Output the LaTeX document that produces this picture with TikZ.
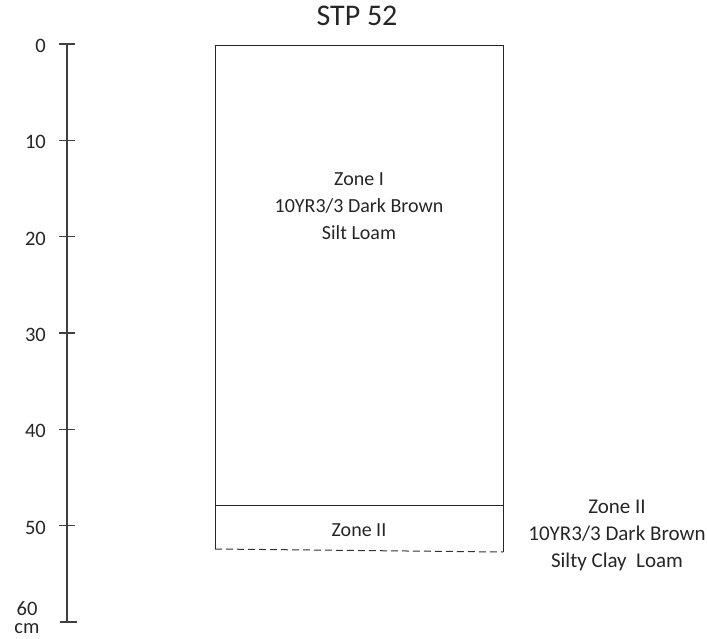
\documentclass[tikz,border=0pt]{standalone}
\usepackage{fontspec}
\setmainfont{Carlito}
\usetikzlibrary{positioning}

\begin{document}
\begin{tikzpicture}[
  x=1pt, y=-1pt,
  title/.style={font=\fontsize{30}{34}\selectfont, text=black!85, inner sep=0pt},
  zonetext/.style={font=\fontsize{20}{27}\selectfont, align=center, text=black!85, inner sep=0pt},
  sidetext/.style={font=\fontsize{21}{27}\selectfont, align=center, text=black!85, inner sep=0pt},
  depthlabel/.style={font=\fontsize{20.5}{22}\selectfont, text=black!85, inner sep=0pt},
  scaleline/.style={draw=black!75, line width=1.2pt},
  profile/.style={draw=black!85, line width=1pt},
  bottomline/.style={draw=black!80, line width=1pt, dash pattern=on 7pt off 4pt}
]
\useasboundingbox (0,0) rectangle (707,639);

\node[title] (title) at (357,16) {STP 52};

% depth scale in cm
\draw[scaleline] (67,44) coordinate (s0) -- (67,622) coordinate (s60);
\foreach \d [count=\i from 0] in {0,10,20,30,40,50} {
  \draw[scaleline] (59,44+96.3*\i) -- (75,44+96.3*\i);
  \node[depthlabel, anchor=east] (d\d) at (46,46+96.3*\i) {\d};
}
\draw[scaleline] (60,622) -- (77,622);
\node[depthlabel] (d60) at (27,609) {60};
\node[depthlabel, below=7pt of d60] (unit) {cm};

% soil profile
\coordinate (tl) at (215,46);
\coordinate (tr) at (503,46);
\coordinate (bl) at (215,549);
\coordinate (br) at (503,552);
\draw[profile] (bl) -- (tl) -- (tr) -- (br);
\draw[profile] (215,505) coordinate (zl) -- (503,505) coordinate (zr);
\draw[bottomline] (bl) -- (br);

\node[zonetext] (zone1) at (359,206) {Zone I\\10YR3/3 Dark Brown\\Silt Loam};
\node[zonetext] (zone2) at (359,530) {Zone II};
\node[sidetext] (zone2desc) at (617,535) {Zone II\\10YR3/3 Dark Brown\\Silty Clay\ \ Loam};

\end{tikzpicture}
\end{document}
